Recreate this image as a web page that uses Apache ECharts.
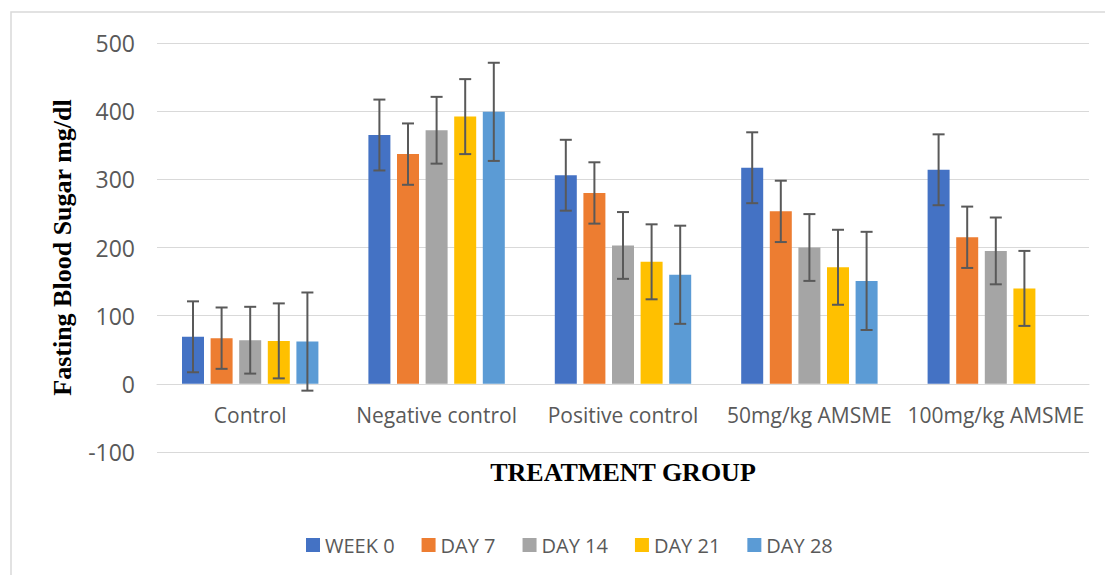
<!DOCTYPE html>
<html>
<head>
<meta charset="utf-8">
<style>
html,body{margin:0;padding:0;background:#fff;}
#chart{width:1105px;height:575px;}
</style>
<script src="https://cdn.jsdelivr.net/npm/echarts@6/dist/echarts.min.js"></script>
</head>
<body>
<div id="chart"></div>
<script>
var categories = ['Control', 'Negative control', 'Positive control', '50mg/kg AMSME', '100mg/kg AMSME'];
var seriesNames = ['WEEK 0', 'DAY 7', 'DAY 14', 'DAY 21', 'DAY 28'];
var week0 = [69, 365, 306, 317, 314];
var day7  = [67, 337, 280, 253, 215];
var day14 = [64, 372, 203, 200, 195];
var day21 = [63, 392, 179, 171, 140];
var day28 = [62, 399, 160, 151, null];
var week0Err = [52, 52, 52, 52, 52];
var day7Err  = [45, 45, 45, 45, 45];
var day14Err = [49, 49, 49, 49, 49];
var day21Err = [55, 55, 55, 55, 55];
var day28Err = [72, 72, 72, 72, null];
var yTicks = [-100, 0, 100, 200, 300, 400, 500];

var colors = ['#4472C4', '#ED7D31', '#A5A5A5', '#FFC000', '#5B9BD5'];
var allValues = [week0, day7, day14, day21, day28];
var allErrs = [week0Err, day7Err, day14Err, day21Err, day28Err];

var GRID = {left: 157, right: 16, top: 43, bottom: 123};
var CH = 575;
var yMin = yTicks[0], yMax = yTicks[yTicks.length - 1];
var plotH = CH - GRID.top - GRID.bottom;
// shift category axis up so it sits on the value 0
var zeroOffset = -plotH * (0 - yMin) / (yMax - yMin);

var BAR_W = 22, BAR_GAP = 0.3;
var barStep = BAR_W * (1 + BAR_GAP);
var nS = seriesNames.length;

var chart = echarts.init(document.getElementById('chart'), null, {renderer: 'svg'});
var series = [];
allValues.forEach(function (vals, si) {
  series.push({
    type: 'bar',
    name: seriesNames[si],
    data: vals.map(function (v) { return v == null ? '-' : v; }),
    barWidth: BAR_W,
    barGap: (BAR_GAP * 100) + '%',
    itemStyle: {color: colors[si]},
    z: 2
  });
});
allValues.forEach(function (vals, si) {
  var data = [];
  vals.forEach(function (v, ci) {
    if (v != null && allErrs[si][ci] != null) data.push([ci, v, allErrs[si][ci]]);
  });
  series.push({
    type: 'custom',
    name: seriesNames[si] + ' err',
    data: data,
    z: 5,
    silent: true,
    encode: {x: 0, y: 1},
    renderItem: function (params, api) {
      var ci = api.value(0), v = api.value(1), e = api.value(2);
      var off = (si - (nS - 1) / 2) * barStep;
      var top = api.coord([ci, v + e]);
      var bot = api.coord([ci, v - e]);
      var x = top[0] + off;
      var cap = 6;
      var st = {stroke: '#595959', lineWidth: 2};
      return {
        type: 'group',
        children: [
          {type: 'line', shape: {x1: x, y1: top[1], x2: x, y2: bot[1]}, style: st},
          {type: 'line', shape: {x1: x - cap, y1: top[1], x2: x + cap, y2: top[1]}, style: st},
          {type: 'line', shape: {x1: x - cap, y1: bot[1], x2: x + cap, y2: bot[1]}, style: st}
        ]
      };
    }
  });
});

var option = {
  animation: false,
  backgroundColor: '#fff',
  graphic: [{
    type: 'rect',
    shape: {x: 11, y: 12, width: 1200, height: 700},
    style: {fill: 'none', stroke: '#D9D9D9', lineWidth: 1.5},
    silent: true
  }],
  grid: {left: GRID.left, right: GRID.right, top: GRID.top, bottom: GRID.bottom, containLabel: false},
  legend: {
    data: seriesNames.map(function (n) { return {name: n, icon: 'rect'}; }),
    left: 301,
    top: 530,
    itemWidth: 14,
    itemHeight: 14,
    itemGap: 27,
    textStyle: {fontFamily: 'Open Sans', fontSize: 20, color: '#595959'}
  },
  xAxis: {
    type: 'category',
    data: categories,
    position: 'bottom',
    offset: zeroOffset,
    axisLine: {show: true, onZero: false, lineStyle: {color: '#D9D9D9', width: 1}},
    axisTick: {show: false},
    axisLabel: {fontFamily: 'Open Sans', fontSize: 21, color: '#595959', margin: 21, interval: 0},
    name: 'TREATMENT GROUP',
    nameLocation: 'middle',
    nameGap: 76,
    nameTextStyle: {fontFamily: 'Liberation Serif', fontWeight: 'bold', fontSize: 26, color: '#000'}
  },
  yAxis: {
    type: 'value',
    min: yMin,
    max: yMax,
    interval: 100,
    axisLine: {show: false},
    axisTick: {show: false},
    splitLine: {lineStyle: {color: '#D9D9D9', width: 1}},
    axisLabel: {
      fontFamily: 'Open Sans', fontSize: 23, color: '#595959', margin: 22,
      formatter: function (v) { return yTicks.indexOf(v) >= 0 ? String(v) : ''; }
    },
    name: 'Fasting Blood Sugar mg/dl',
    nameLocation: 'middle',
    nameGap: 82,
    nameTextStyle: {fontFamily: 'Liberation Serif', fontWeight: 'bold', fontSize: 26, color: '#000'}
  },
  series: series
};
chart.setOption(option);
</script>
</body>
</html>
